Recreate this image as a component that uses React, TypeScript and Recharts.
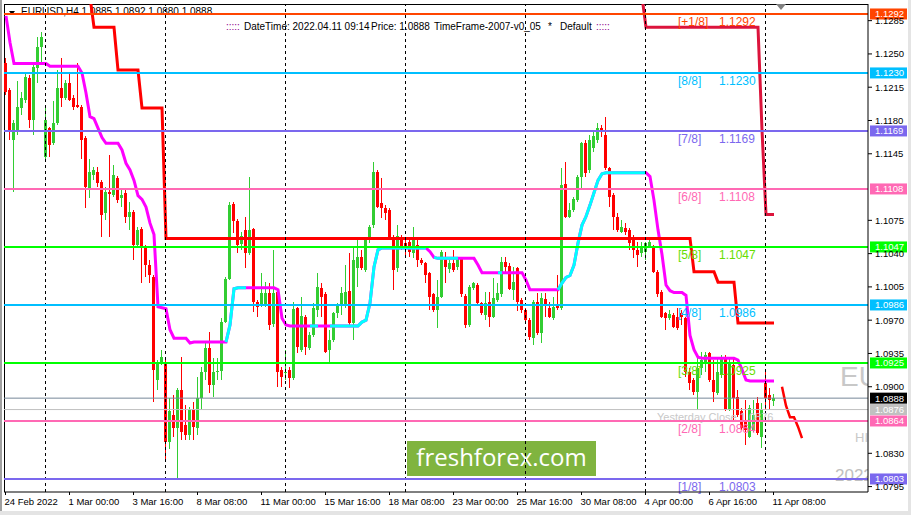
import { ComposedChart, Bar, Line, XAxis, YAxis, ReferenceLine } from "recharts";

const FONT = '"Liberation Sans", Arial, sans-serif';

// time axis: a label every 16 H4 bars
const timeTickIdx = [0, 16, 32, 48, 64, 80, 96, 112, 128, 144, 160, 176, 192];
const timeTickLabels = [
  "24 Feb 2022", "1 Mar 00:00", "3 Mar 16:00", "8 Mar 08:00", "11 Mar 00:00", "15 Mar 16:00",
  "18 Mar 08:00", "23 Mar 00:00", "25 Mar 16:00", "30 Mar 08:00", "4 Apr 00:00", "6 Apr 16:00", "11 Apr 08:00",
];
const priceTicks = [1.0795, 1.083, 1.09, 1.0935, 1.097, 1.1005, 1.104, 1.1075, 1.1145, 1.118, 1.1215, 1.125, 1.1285];
const weekStartIdx = [10, 40, 70, 100, 130, 160, 190];

// EURUSD H4 candles
const opens = [
  1.1240, 1.1212, 1.1160, 1.1170, 1.1193, 1.1202, 1.1225, 1.1181, 1.1235, 1.1257,
  1.1142, 1.1172, 1.1156, 1.1177, 1.1214, 1.1204, 1.1219, 1.1204, 1.1196, 1.1194,
  1.1162, 1.1107, 1.1123, 1.1126, 1.1115, 1.1083, 1.1105, 1.1102, 1.1120, 1.1099,
  1.1104, 1.1078, 1.1084, 1.1049, 1.1066, 1.1046, 1.1028, 1.1015, 1.0907, 1.0925,
  1.0925, 1.0842, 1.0870, 1.0857, 1.0897, 1.0860, 1.0849, 1.0876, 1.0857, 1.0888,
  1.0915, 1.0941, 1.0902, 1.0915, 1.0917, 1.0968, 1.1013, 1.1092, 1.1074, 1.1050,
  1.1065, 1.1041, 1.1066, 1.0989, 1.0986, 1.0987, 1.0999, 1.0966, 1.1000, 1.0918,
  1.0915, 1.0918, 1.0909, 1.0983, 1.0939, 1.0973, 1.0941, 1.0954, 1.0981, 1.1004,
  1.0998, 1.0939, 1.0949, 1.0978, 1.0987, 1.0986, 1.1001, 1.0967, 1.1025, 1.1036,
  1.1023, 1.1054, 1.1070, 1.1126, 1.1093, 1.1088, 1.1086, 1.1057, 1.1025, 1.1056,
  1.1051, 1.1052, 1.1041, 1.1049, 1.1033, 1.1030, 1.1020, 1.0997, 1.0981, 1.0994,
  1.1036, 1.1024, 1.1030, 1.1026, 1.1035, 1.0995, 1.0965, 1.1004, 1.1007, 1.0988,
  1.0975, 1.0989, 1.0973, 1.0991, 1.0997, 1.1031, 1.1027, 1.1002, 1.1025, 1.0991,
  1.0981, 1.0970, 1.0951, 1.0989, 1.0956, 1.0992, 1.0983, 1.0972, 1.0985, 1.0983,
  1.1113, 1.1078, 1.1086, 1.1096, 1.1121, 1.1156, 1.1128, 1.1151, 1.1160, 1.1172,
  1.1165, 1.1130, 1.1102, 1.1078, 1.1063, 1.1067, 1.1065, 1.1056, 1.1044, 1.1041,
  1.1042, 1.1047, 1.1047, 1.1021, 1.1000, 1.0978, 1.0972, 1.0975, 1.0973, 1.0978,
  1.0972, 1.0915, 1.0907, 1.0894, 1.0920, 1.0926, 1.0935, 1.0907, 1.0893, 1.0912,
  1.0930, 1.0876, 1.0923, 1.0889, 1.0874, 1.0865, 1.0847, 1.0855, 1.0883, 1.0847,
  1.0904, 1.0891, 1.0885,
];
const highs = [
  1.1246, 1.1214, 1.1181, 1.1221, 1.1210, 1.1230, 1.1228, 1.1242, 1.1268, 1.1273,
  1.1194, 1.1173, 1.1200, 1.1233, 1.1246, 1.1223, 1.1230, 1.1207, 1.1240, 1.1196,
  1.1164, 1.1139, 1.1131, 1.1131, 1.1117, 1.1110, 1.1144, 1.1133, 1.1122, 1.1107,
  1.1107, 1.1094, 1.1086, 1.1068, 1.1068, 1.1049, 1.1033, 1.1017, 1.0928, 1.0939,
  1.0928, 1.0888, 1.0891, 1.0899, 1.0931, 1.0881, 1.0879, 1.0884, 1.0910, 1.0921,
  1.0946, 1.0958, 1.0930, 1.0930, 1.0972, 1.1015, 1.1094, 1.1094, 1.1076, 1.1063,
  1.1079, 1.1121, 1.1067, 1.0991, 1.1020, 1.1010, 1.1009, 1.1044, 1.1002, 1.0921,
  1.0939, 1.0921, 1.0989, 1.0984, 1.0994, 1.0975, 1.0958, 1.0988, 1.1020, 1.1009,
  1.1000, 1.0960, 1.0979, 1.0988, 1.1005, 1.1028, 1.1041, 1.1047, 1.1054, 1.1044,
  1.1057, 1.1070, 1.1136, 1.1128, 1.1120, 1.1091, 1.1088, 1.1060, 1.1070, 1.1060,
  1.1054, 1.1057, 1.1068, 1.1054, 1.1035, 1.1031, 1.1021, 1.0999, 1.1012, 1.1044,
  1.1042, 1.1033, 1.1044, 1.1036, 1.1036, 1.0997, 1.1007, 1.1010, 1.1009, 1.0989,
  1.1000, 1.1000, 1.1014, 1.1009, 1.1036, 1.1036, 1.1030, 1.1026, 1.1026, 1.0993,
  1.0983, 1.0972, 1.0991, 1.0999, 1.0999, 1.0999, 1.0989, 1.0994, 1.1018, 1.1130,
  1.1136, 1.1093, 1.1100, 1.1123, 1.1157, 1.1160, 1.1165, 1.1170, 1.1177, 1.1175,
  1.1184, 1.1131, 1.1104, 1.1083, 1.1075, 1.1072, 1.1067, 1.1060, 1.1052, 1.1052,
  1.1052, 1.1054, 1.1049, 1.1023, 1.1002, 1.0979, 1.0981, 1.0978, 1.0983, 1.0981,
  1.0973, 1.0920, 1.0909, 1.0933, 1.0937, 1.0937, 1.0937, 1.0928, 1.0930, 1.0933,
  1.0933, 1.0931, 1.0930, 1.0897, 1.0878, 1.0886, 1.0881, 1.0886, 1.0889, 1.0883,
  1.0915, 1.0899, 1.0892,
];
const lows = [
  1.1207, 1.1160, 1.1105, 1.1165, 1.1186, 1.1198, 1.1172, 1.1165, 1.1219, 1.1240,
  1.1136, 1.1142, 1.1154, 1.1175, 1.1194, 1.1202, 1.1200, 1.1191, 1.1193, 1.1139,
  1.1088, 1.1099, 1.1117, 1.1110, 1.1057, 1.1075, 1.1057, 1.1100, 1.1093, 1.1089,
  1.1072, 1.1065, 1.1033, 1.1047, 1.1009, 1.1015, 1.1009, 1.0884, 1.0897, 1.0923,
  1.0821, 1.0834, 1.0847, 1.0804, 1.0844, 1.0844, 1.0844, 1.0844, 1.0849, 1.0876,
  1.0907, 1.0893, 1.0889, 1.0907, 1.0907, 1.0967, 1.1012, 1.1062, 1.1041, 1.1044,
  1.1025, 1.1039, 1.0979, 1.0973, 1.0984, 1.0984, 1.0960, 1.0963, 1.0900, 1.0900,
  1.0907, 1.0899, 1.0907, 1.0935, 1.0937, 1.0933, 1.0939, 1.0952, 1.0973, 1.0973,
  1.0935, 1.0926, 1.0947, 1.0972, 1.0975, 1.0983, 1.0965, 1.0949, 1.1005, 1.1023,
  1.1021, 1.1051, 1.1067, 1.1088, 1.1077, 1.1075, 1.1054, 1.1002, 1.1021, 1.1044,
  1.1036, 1.1036, 1.1035, 1.1026, 1.1028, 1.1009, 1.0981, 1.0979, 1.0962, 1.0993,
  1.1009, 1.1020, 1.1021, 1.1023, 1.0994, 1.0962, 1.0963, 1.1002, 1.0986, 1.0975,
  1.0970, 1.0963, 1.0972, 1.0989, 1.0994, 1.1021, 1.1002, 1.0991, 1.0980, 1.0978,
  1.0968, 1.0949, 1.0944, 1.0954, 1.0946, 1.0973, 1.0972, 1.0970, 1.0981, 1.0981,
  1.1077, 1.1077, 1.1084, 1.1094, 1.1107, 1.1121, 1.1125, 1.1147, 1.1156, 1.1163,
  1.1128, 1.1089, 1.1065, 1.1063, 1.1062, 1.1060, 1.1044, 1.1035, 1.1026, 1.1036,
  1.1033, 1.1046, 1.1020, 1.0994, 1.0972, 1.0960, 1.0970, 1.0962, 1.0960, 1.0965,
  1.0910, 1.0897, 1.0891, 1.0876, 1.0912, 1.0916, 1.0905, 1.0884, 1.0891, 1.0909,
  1.0874, 1.0874, 1.0865, 1.0868, 1.0855, 1.0839, 1.0846, 1.0852, 1.0849, 1.0836,
  1.0876, 1.0876, 1.0880,
];
const closes = [
  1.1210, 1.1170, 1.1177, 1.1194, 1.1204, 1.1226, 1.1181, 1.1236, 1.1257, 1.1268,
  1.1181, 1.1154, 1.1177, 1.1214, 1.1204, 1.1219, 1.1202, 1.1194, 1.1194, 1.1160,
  1.1110, 1.1126, 1.1128, 1.1114, 1.1081, 1.1105, 1.1103, 1.1123, 1.1096, 1.1102,
  1.1078, 1.1084, 1.1049, 1.1065, 1.1046, 1.1028, 1.1017, 1.0918, 1.0926, 1.0931,
  1.0842, 1.0874, 1.0857, 1.0897, 1.0852, 1.0849, 1.0876, 1.0858, 1.0888, 1.0915,
  1.0941, 1.0902, 1.0915, 1.0917, 1.0968, 1.1013, 1.1091, 1.1074, 1.1049, 1.1058,
  1.1041, 1.1065, 1.0989, 1.0984, 1.0999, 1.0999, 1.0965, 1.0999, 1.0915, 1.0910,
  1.0916, 1.0909, 1.0982, 1.0942, 1.0974, 1.0942, 1.0954, 1.0983, 1.1005, 1.0994,
  1.0937, 1.0949, 1.0978, 1.0987, 1.0999, 1.1000, 1.0967, 1.1033, 1.1036, 1.1025,
  1.1054, 1.1068, 1.1126, 1.1089, 1.1088, 1.1083, 1.1057, 1.1023, 1.1058, 1.1047,
  1.1046, 1.1042, 1.1056, 1.1033, 1.1030, 1.1017, 1.0994, 1.0981, 1.0994, 1.1042,
  1.1026, 1.1030, 1.1023, 1.1035, 1.0997, 1.0965, 1.1005, 1.1009, 1.0988, 1.0978,
  1.0988, 1.0973, 1.0993, 1.0999, 1.1031, 1.1026, 1.1003, 1.1010, 1.0989, 1.0981,
  1.0970, 1.0952, 1.0989, 1.0956, 1.0993, 1.0985, 1.0973, 1.0984, 1.0983, 1.1112,
  1.1078, 1.1086, 1.1097, 1.1121, 1.1156, 1.1125, 1.1160, 1.1164, 1.1172, 1.1168,
  1.1130, 1.1100, 1.1078, 1.1065, 1.1068, 1.1063, 1.1051, 1.1044, 1.1039, 1.1048,
  1.1051, 1.1052, 1.1021, 1.0997, 1.0973, 1.0972, 1.0976, 1.0963, 1.0962, 1.0973,
  1.0915, 1.0904, 1.0894, 1.0920, 1.0928, 1.0933, 1.0907, 1.0894, 1.0915, 1.0931,
  1.0876, 1.0926, 1.0888, 1.0870, 1.0857, 1.0855, 1.0878, 1.0870, 1.0851, 1.0876,
  1.0888, 1.0886, 1.0888,
];

// trend line (magenta falling / aqua rising)
const trendLine = [
  1.1290, 1.1262, 1.1240, 1.1240, 1.1240, 1.1240, 1.1240, 1.1240, 1.1240, 1.1240,
  1.1240, 1.1237, 1.1237, 1.1237, 1.1237, 1.1237, 1.1237, 1.1237, 1.1237, 1.1230,
  1.1209, 1.1184, 1.1182, 1.1172, 1.1162, 1.1156, 1.1156, 1.1156, 1.1156, 1.1149,
  1.1135, 1.1128, 1.1117, 1.1101, 1.1097, 1.1089, 1.1072, 1.1060, 1.0984, 1.0983,
  1.0982, 1.0960, 1.0951, 1.0951, 1.0951, 1.0951, 1.0946, 1.0947, 1.0947, 1.0947,
  1.0947, 1.0947, 1.0947, 1.0947, 1.0947, 1.0947, 1.0965, 1.1003, 1.1004, 1.1004,
  1.1004, 1.1004, 1.1004, 1.1004, 1.1004, 1.1004, 1.1004, 1.1004, 1.1002, 1.0972,
  1.0965, 1.0964, 1.0964, 1.0964, 1.0964, 1.0964, 1.0964, 1.0964, 1.0964, 1.0964,
  1.0964, 1.0964, 1.0964, 1.0964, 1.0964, 1.0964, 1.0964, 1.0964, 1.0964, 1.0968,
  1.0970, 1.0988, 1.1026, 1.1044, 1.1046, 1.1046, 1.1046, 1.1046, 1.1046, 1.1046,
  1.1046, 1.1046, 1.1046, 1.1046, 1.1046, 1.1046, 1.1042, 1.1036, 1.1035, 1.1035,
  1.1035, 1.1035, 1.1035, 1.1035, 1.1035, 1.1035, 1.1035, 1.1035, 1.1028, 1.1020,
  1.1020, 1.1020, 1.1020, 1.1020, 1.1020, 1.1020, 1.1020, 1.1020, 1.1020, 1.1020,
  1.1012, 1.1002, 1.1002, 1.1002, 1.1002, 1.1002, 1.1002, 1.1002, 1.1002, 1.1009,
  1.1015, 1.1017, 1.1028, 1.1051, 1.1070, 1.1079, 1.1091, 1.1104, 1.1117, 1.1124,
  1.1125, 1.1125, 1.1125, 1.1125, 1.1125, 1.1125, 1.1125, 1.1125, 1.1125, 1.1125,
  1.1125, 1.1121, 1.1096, 1.1065, 1.1039, 1.1007, 1.1001, 1.0999, 1.0999, 1.0999,
  1.0996, 1.0954, 1.0939, 1.0931, 1.0930, 1.0930, 1.0930, 1.0930, 1.0930, 1.0930,
  1.0930, 1.0930, 1.0930, 1.0928, 1.0918, 1.0907, 1.0906, 1.0906, 1.0906, 1.0906,
  1.0906, 1.0906, 1.0906,
];
const trendUpRuns = [[55, 60], [76, 78], [81, 105], [107, 113], [123, 124], [138, 160]];

// stepped red lines: bar index where each step starts, and its level
const dailyStepStart = [21, 22, 28, 34, 40, 172, 178, 183];
const dailyStepLevel = [1.131, 1.1278, 1.1233, 1.1193, 1.1056, 1.1021, 1.101, 1.0967];
const weeklyStepStart = [159, 160, 189, 190];
const weeklyStepLevel = [1.131, 1.1278, 1.117, 1.1081];

const forecastIdx = [194, 195, 196, 197, 198, 199];
const forecastVals = [1.09, 1.088, 1.0868, 1.0868, 1.0858, 1.0846];

// Murrey math levels
const levelPrices = [1.1292, 1.123, 1.1169, 1.1108, 1.1047, 1.0986, 1.0925, 1.0864, 1.0803];
const levelNames = ["[+1/8]", "[8/8]", "[7/8]", "[6/8]", "[5/8]", "[4/8]", "[3/8]", "[2/8]", "[1/8]"];
const levelColors = ["#FF4500", "#00BFFF", "#7B68EE", "#FF69B4", "#00FF00", "#00BFFF", "#00FF00", "#FF69B4", "#7B68EE"];
const levelTextColors = ["#FF4500", "#00BFFF", "#7B68EE", "#FF69B4", "#66DD00", "#00BFFF", "#66DD00", "#FF69B4", "#7B68EE"];
const yesterdayClose = 1.0876;

const lastIdx = closes.length - 1;
const SLOTS = 216;

const inRun = (i: number) => trendUpRuns.some(([a, b]) => i >= a && i <= b);
const stepAt = (starts: number[], levels: number[], i: number) => {
  if (i < starts[0] || i > lastIdx) return null;
  let v = levels[0];
  starts.forEach((s, k) => {
    if (i >= s) v = levels[k];
  });
  return v;
};

const rows = Array.from({ length: SLOTS }, (_, i) => {
  const bar = i <= lastIdx;
  const f = forecastIdx.indexOf(i);
  return {
    i,
    range: bar ? [lows[i], highs[i]] : null,
    o: bar ? opens[i] : null,
    h: bar ? highs[i] : null,
    l: bar ? lows[i] : null,
    c: bar ? closes[i] : null,
    trend: bar ? trendLine[i] : null,
    trendUp: bar && inRun(i) ? trendLine[i] : null,
    daily: stepAt(dailyStepStart, dailyStepLevel, i),
    weekly: stepAt(weeklyStepStart, weeklyStepLevel, i),
    forecast: f >= 0 ? forecastVals[f] : null,
  };
});

const Candle = (props: any) => {
  const { x, y, width, height, payload } = props;
  if (!payload || payload.o == null || !isFinite(y)) return <g />;
  const { o, h, l, c } = payload;
  const top = Math.min(y, y + height);
  const hgt = Math.abs(height);
  const span = h - l || 1e-9;
  const py = (v: number) => top + ((h - v) / span) * hgt;
  const cx = Math.round(x + width / 2);
  const col = c >= o ? "#32CD32" : "#FF0000";
  const bTop = Math.round(py(Math.max(o, c)));
  const bBot = Math.round(py(Math.min(o, c)));
  const wTop = Math.round(top);
  const wBot = Math.round(top + hgt);
  return (
    <g>
      <rect x={cx - 1} y={wTop} width={1} height={Math.max(1, wBot - wTop)} fill={col} />
      <rect x={cx - 2} y={bTop} width={3} height={Math.max(1, bBot - bTop)} fill={col} />
    </g>
  );
};

const TimeTick = (p: any) => {
  const k = timeTickIdx.indexOf(p.payload.value);
  if (k < 0) return <g />;
  const x = Math.round(p.x) - 0.5;
  return (
    <g>
      <line x1={x} x2={x} y1={p.y - 4} y2={p.y - 1} stroke="#000" />
      <text x={x - 1} y={p.y + 9} fontSize={9.5} fill="#000">
        {timeTickLabels[k]}
      </text>
    </g>
  );
};

const PriceTick = (p: any) => (
  <text x={p.x + 1} y={p.y + 3.5} fontSize={9.5} fill="#000">
    {Number(p.payload.value).toFixed(4)}
  </text>
);

// vertical week separator drawn on a whole pixel
const WeekLine = (p: any) => {
  const x = Math.round(p.x1) - 0.5;
  return <line x1={x} x2={x} y1={p.y1} y2={p.y2} stroke="#000" strokeWidth={1} strokeDasharray="3 3" />;
};

const levelLabel = (k: number) => (lp: any) => {
  const vb = lp.viewBox;
  if (!vb) return null;
  const y = vb.y;
  const right = vb.x + vb.width;
  return (
    <g>
      <text x={vb.x + 674} y={y + 12} fontSize={12} fill={levelTextColors[k]}>
        {levelNames[k]}
      </text>
      <text x={vb.x + 715} y={y + 12} fontSize={12} fill={levelTextColors[k]}>
        {levelPrices[k].toFixed(4)}
      </text>
      <rect x={right + 2} y={y - 5.5} width={37} height={11} fill={levelColors[k]} />
      <text x={right + 7} y={y + 3.5} fontSize={9.5} fill="#fff">
        {levelPrices[k].toFixed(4)}
      </text>
    </g>
  );
};

const priceBox = (value: number, bg: string, note?: string) => (lp: any) => {
  const vb = lp.viewBox;
  if (!vb) return null;
  const y = vb.y;
  const right = vb.x + vb.width;
  return (
    <g>
      {note && (
        <text x={vb.x + 653} y={y + 11} fontSize={11} fill="#C8C8C8">
          {note}
        </text>
      )}
      <rect x={right + 2} y={y - 5.5} width={37} height={11} fill={bg} />
      <text x={right + 7} y={y + 3.5} fontSize={9.5} fill="#fff">
        {value.toFixed(4)}
      </text>
    </g>
  );
};

export default function App() {
  const last = closes.length - 1;
  const header = `EURUSD,H4 ${opens[last].toFixed(4)} ${highs[last].toFixed(4)} ${lows[last].toFixed(4)} ${closes[last].toFixed(4)}`;
  return (
    <div
      style={{
        position: "absolute",
        left: 0,
        top: 0,
        width: 911,
        height: 515,
        background: "#fff",
        overflow: "hidden",
        fontFamily: FONT,
      }}
    >
      <svg width={911} height={515} style={{ position: "absolute", left: 0, top: 0 }} fontFamily={FONT}>
        <defs>
          <clipPath id="plotClip">
            <rect x={4} y={4} width={864} height={488} />
          </clipPath>
        </defs>
        <rect x={0} y={0} width={2} height={515} fill="#A0A0A0" />
        <rect x={0} y={511} width={911} height={4} fill="#E4E4E4" />
        <rect x={908} y={0} width={3} height={515} fill="#E4E4E4" />
        <line x1={4} x2={868} y1={4.5} y2={4.5} stroke="#000" />
        <line x1={4.5} x2={4.5} y1={4} y2={492} stroke="#000" />
        <polygon points="9,11 15,11 12,15" fill="#000" />
        <text x={21} y={15} fontSize={10} fill="#000">
          {header}
        </text>
        <text x={226} y={30} fontSize={10} fill="#8B008B">:::::</text>
        <text x={244} y={30} fontSize={10} fill="#000">DateTime: 2022.04.11 09:14</text>
        <text x={371} y={30} fontSize={10} fill="#000">Price: {closes[last].toFixed(4)}</text>
        <text x={434} y={30} fontSize={10} fill="#000">TimeFrame-2007-v0_05</text>
        <text x={548} y={30} fontSize={10} fill="#000">*</text>
        <text x={560} y={30} fontSize={10} fill="#000">Default</text>
        <text x={596} y={30} fontSize={10} fill="#8B008B">:::::</text>
        <polygon points="776,4 786,4 781,10" fill="#808080" />
        <g clipPath="url(#plotClip)">
          <text x={840} y={386} fontSize={28} fill="#C8C8C8">EU</text>
          <text x={855} y={442} fontSize={13} fill="#C8C8C8">HI</text>
          <text x={835} y={481} fontSize={17} fill="#C0C0C0">2022</text>
        </g>
        <rect x={407} y={441} width={189} height={35} fill="#80B43F" />
        <text x={501.5} y={466} textAnchor="middle" fontSize={24} fill="#fff" fontFamily='"Open Sans", sans-serif'>
          freshforex.com
        </text>
      </svg>
      <div style={{ position: "absolute", left: 0, top: 0 }}>
        <ComposedChart
          width={911}
          height={515}
          data={rows}
          margin={{ top: 4, right: 0, left: 4, bottom: 0 }}
          barCategoryGap={0}
          barGap={0}
        >
          <XAxis
            dataKey="i"
            type="category"
            ticks={timeTickIdx}
            interval={0}
            height={23}
            tickSize={4}
            tickMargin={0}
            tickLine={false}
            axisLine={{ stroke: "#000" }}
            tick={(p: any) => <TimeTick {...p} />}
          />
          <YAxis
            orientation="right"
            width={43}
            type="number"
            domain={[1.07893, 1.13025]}
            allowDataOverflow
            ticks={priceTicks}
            interval={0}
            tickSize={4}
            tickMargin={2}
            tickLine={{ stroke: "#000" }}
            axisLine={{ stroke: "#000" }}
            tick={(p: any) => <PriceTick {...p} />}
          />
          <Bar dataKey="range" barSize={4} shape={(p: any) => <Candle {...p} />} isAnimationActive={false} />
          <Line dataKey="trend" type="linear" stroke="#FF00FF" strokeWidth={3} dot={false} activeDot={false} isAnimationActive={false} />
          <Line dataKey="trendUp" type="linear" stroke="#00FFFF" strokeWidth={3} dot={false} activeDot={false} isAnimationActive={false} />
          <Line dataKey="daily" type="linear" stroke="#FF0000" strokeWidth={3} dot={false} activeDot={false} isAnimationActive={false} />
          <Line dataKey="weekly" type="linear" stroke="#DC143C" strokeWidth={3} dot={false} activeDot={false} isAnimationActive={false} />
          <Line dataKey="forecast" type="linear" stroke="#FF0000" strokeWidth={2.5} dot={false} activeDot={false} isAnimationActive={false} />
          {weekStartIdx.map((w) => (
            <ReferenceLine key={"w" + w} x={w} stroke="#000" shape={(p: any) => <WeekLine {...p} />} />
          ))}
          <ReferenceLine y={closes[last]} stroke="#778899" strokeWidth={1} label={priceBox(closes[last], "#000")} />
          <ReferenceLine
            y={yesterdayClose}
            stroke="#C0C0C0"
            strokeWidth={1}
            label={priceBox(yesterdayClose, "#C0C0C0", `Yesterday Close ${yesterdayClose.toFixed(4)}`)}
          />
          {levelPrices.map((p, k) => (
            <ReferenceLine key={"lv" + k} y={p} stroke={levelColors[k]} strokeWidth={2} label={levelLabel(k)} />
          ))}
        </ComposedChart>
      </div>
    </div>
  );
}
